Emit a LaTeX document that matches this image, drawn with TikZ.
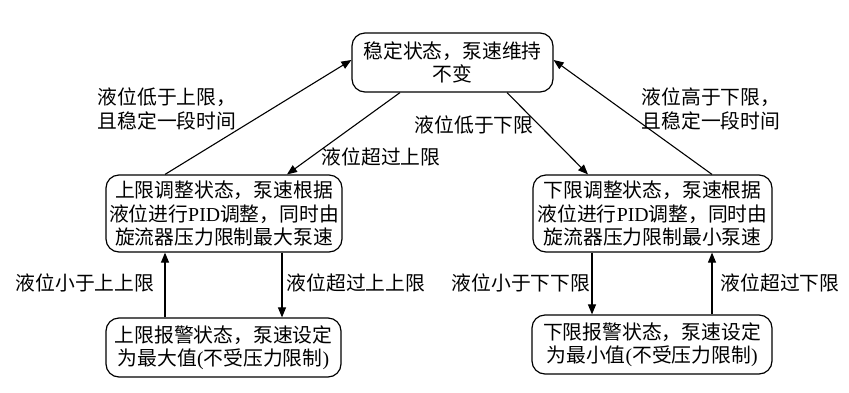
\documentclass[tikz,border=0pt]{standalone}
\usepackage{fontspec}
\setmainfont{Liberation Serif}
\newfontfamily\cjkf{Noto Sans CJK SC}
\newfontfamily\latf{Liberation Serif}
\newcommand\latx[1]{{\latf #1}}
\usetikzlibrary{arrows.meta}
\begin{document}
\begin{tikzpicture}[x=1pt,y=-1pt,
  every node/.style={font=\cjkf\fontsize{19.8}{23.5}\selectfont, inner sep=0pt},
  state/.style={draw, line width=1.2pt, rounded corners=13pt, align=center, minimum width=#1},
  lbl/.style={align=left},
  conn/.style={line width=1.1pt, -{Triangle[length=10pt,width=8pt]}}]
\useasboundingbox (0,0) rectangle (849,392);
\node[state=201pt, minimum height=59pt] (top) at (452.5,62.5) {稳定状态，泵速维持\\不变};
\node[state=236pt, minimum height=77pt] (lm) at (224,213.5) {上限调整状态，泵速根据\\液位进行\latx{PID}调整，同时由\\旋流器压力限制最大泵速};
\node[state=239pt, minimum height=77pt] (rm) at (652.5,213.5) {下限调整状态，泵速根据\\液位进行\latx{PID}调整，同时由\\旋流器压力限制最小泵速};
\node[state=235pt, minimum height=59pt] (bl) at (223.5,347.5) {上限报警状态，泵速设定\\为最大值\latx{(}不受压力限制\latx{)}};
\node[state=240pt, minimum height=59pt] (br) at (652,344.5) {下限报警状态，泵速设定\\为最小值\latx{(}不受压力限制\latx{)}};

\draw[conn] ([xshift=-59pt]lm.north) -- ([yshift=2.5pt]top.west);
\draw[conn] ([xshift=-52.5pt]top.south) -- ([xshift=63pt]lm.north);
\draw[conn] ([xshift=54.5pt]top.south) -- ([xshift=-64.5pt]rm.north);
\draw[conn] ([xshift=59.5pt]rm.north) -- ([yshift=2.5pt]top.east);
\draw[conn] ([xshift=-58.5pt]bl.north) coordinate (a1) -- (a1 |- lm.south);
\draw[conn] ([xshift=58pt]lm.south) coordinate (a2) -- (a2 |- bl.north);
\draw[conn] ([xshift=-60.5pt]rm.south) coordinate (a3) -- (a3 |- br.north);
\draw[conn] ([xshift=60pt]br.north) coordinate (a4) -- (a4 |- rm.south);

\node[lbl] (l1) at (167,109) {液位低于上限，\\且稳定一段时间};
\node[lbl] (l2) at (381,157) {液位超过上限};
\node[lbl] (l3) at (474,125) {液位低于下限};
\node[lbl] (l4) at (711,109) {液位高于下限，\\且稳定一段时间};
\node[lbl] (l5) at (85,283) {液位小于上上限};
\node[lbl] (l6) at (356,283) {液位超过上上限};
\node[lbl] (l7) at (521,283) {液位小于下下限};
\node[lbl] (l8) at (780,283) {液位超过下限};
\end{tikzpicture}
\end{document}
